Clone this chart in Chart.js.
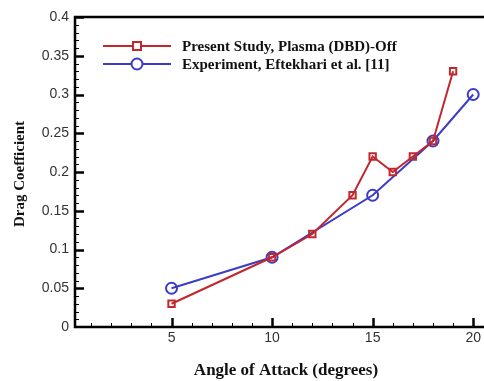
<!DOCTYPE html>
<html><head><meta charset="utf-8">
<script src="https://cdn.jsdelivr.net/npm/chart.js@4/dist/chart.umd.min.js"></script>
<style>html,body{margin:0;padding:0;background:#fff}#wrap{width:484px;height:381px;position:relative}</style>
</head><body><div id="wrap"><canvas id="c"></canvas></div>
<script>
const seriesNames = ["Present Study, Plasma (DBD)-Off", "Experiment, Eftekhari et al. [11]"];
const xTitle = "Angle of Attack (degrees)";
const yTitle = "Drag Coefficient";
const presentAngles = [5, 10, 12, 14, 15, 16, 17, 18, 19];
const presentCd = [0.03, 0.09, 0.12, 0.17, 0.22, 0.20, 0.22, 0.24, 0.33];
const expAngles = [5, 10, 15, 18, 20];
const expCd = [0.05, 0.09, 0.17, 0.24, 0.30];
const xTicks = [5, 10, 15, 20];
const yTicks = [0, 0.05, 0.1, 0.15, 0.2, 0.25, 0.3, 0.35, 0.4];

const RED = '#c0282e', BLUE = '#3c3cc8';
const toPts = (xs, ys) => xs.map((x, i) => ({x: x, y: ys[i]}));
const SERIF = '"Liberation Serif", "Times New Roman", serif';

const innerTicks = {
  id: 'innerTicks',
  afterDraw(chart) {
    const ctx = chart.ctx, a = chart.chartArea, xs = chart.scales.x, ys = chart.scales.y;
    const W = chart.width;
    ctx.save();
    ctx.strokeStyle = '#000';
    for (let v = 1; v <= 20; v++) {
      const p = Math.round(xs.getPixelForValue(v)) + 0.5;
      const major = v % 5 === 0;
      ctx.lineWidth = major ? 2.5 : 1;
      ctx.beginPath(); ctx.moveTo(p, a.bottom); ctx.lineTo(p, a.bottom - (major ? 9 : 4)); ctx.stroke();
    }
    for (let k = 1; k <= 40; k++) {
      const v = k / 100;
      const p = Math.round(ys.getPixelForValue(v)) + 0.5;
      const major = k % 5 === 0;
      ctx.lineWidth = major ? 2.5 : 1;
      ctx.beginPath(); ctx.moveTo(a.left, p); ctx.lineTo(a.left + (major ? 9 : 4), p); ctx.stroke();
    }
    ctx.lineWidth = 2.5;
    ctx.beginPath();
    ctx.moveTo(W, a.top); ctx.lineTo(a.left, a.top); ctx.lineTo(a.left, a.bottom); ctx.lineTo(W, a.bottom);
    ctx.stroke();
    // legend
    const rows = [{c: RED, s: 'rect'}, {c: BLUE, s: 'circle'}];
    const ly = [46, 64];
    ctx.font = 'bold 15px ' + SERIF;
    ctx.textBaseline = 'middle';
    ctx.textAlign = 'left';
    rows.forEach((r, i) => {
      const y = ly[i];
      ctx.strokeStyle = r.c; ctx.lineWidth = 2;
      ctx.beginPath(); ctx.moveTo(103, y); ctx.lineTo(171, y); ctx.stroke();
      ctx.fillStyle = '#fff';
      if (r.s === 'rect') { ctx.fillRect(133, y - 4, 8, 8); ctx.strokeRect(133, y - 4, 8, 8); }
      else { ctx.beginPath(); ctx.arc(137, y, 5.5, 0, Math.PI * 2); ctx.fill(); ctx.stroke(); }
      ctx.fillStyle = '#111';
      ctx.fillText(seriesNames[i], 182, y + 1);
    });
    // axis titles
    ctx.fillStyle = '#111';
    ctx.textAlign = 'center';
    ctx.font = 'bold 17px ' + SERIF;
    ctx.fillText(xTitle, 286, 371);
    ctx.save();
    ctx.translate(20, 174);
    ctx.rotate(-Math.PI / 2);
    ctx.font = 'bold 15px ' + SERIF;
    ctx.fillText(yTitle, 0, 0);
    ctx.restore();
    ctx.restore();
  }
};

new Chart(document.getElementById('c'), {
  type: 'scatter',
  data: {
    datasets: [
      {label: seriesNames[0], data: toPts(presentAngles, presentCd), showLine: true, clip: false,
       borderColor: RED, backgroundColor: 'rgba(255,255,255,0)', borderWidth: 2,
       pointStyle: 'rect', pointRadius: 4.5, pointBorderWidth: 2, pointBorderColor: RED, pointBackgroundColor: 'rgba(0,0,0,0)'},
      {label: seriesNames[1], data: toPts(expAngles, expCd), showLine: true, clip: false,
       borderColor: BLUE, backgroundColor: 'rgba(255,255,255,0)', borderWidth: 2,
       pointStyle: 'circle', pointRadius: 5.5, pointBorderWidth: 2, pointBorderColor: BLUE, pointBackgroundColor: 'rgba(0,0,0,0)'}
    ]
  },
  options: {
    responsive: true, maintainAspectRatio: false, animation: false,
    layout: {padding: {left: 0, right: 0, top: 17, bottom: 0}},
    plugins: {legend: {display: false}, tooltip: {enabled: false}},
    scales: {
      x: {
        type: 'linear', min: 0.2, max: 20.05,
        afterBuildTicks: s => { s.ticks = xTicks.map(v => ({value: v})); },
        afterFit: s => { s.height = 54; },
        grid: {display: false, drawTicks: false}, border: {display: false},
        ticks: {font: {family: '"Liberation Sans", Arial, sans-serif', size: 14}, color: '#333', padding: 3, maxRotation: 0,
                callback: v => String(v)},
        title: {display: false}
      },
      y: {
        type: 'linear', min: 0, max: 0.4,
        afterBuildTicks: s => { s.ticks = yTicks.map(v => ({value: v})); },
        afterFit: s => { s.width = 75; },
        grid: {display: false, drawTicks: false}, border: {display: false},
        ticks: {font: {family: '"Liberation Sans", Arial, sans-serif', size: 14}, color: '#333', padding: 6,
                callback: v => String(v)},
        title: {display: false}
      }
    }
  },
  plugins: [innerTicks]
});
</script></body></html>
